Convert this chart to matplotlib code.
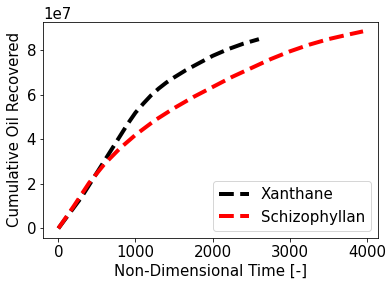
import matplotlib
matplotlib.use("Agg")
import matplotlib.pyplot as plt

xan_t = [0, 150, 300, 400, 500, 600, 700, 800, 900, 1000, 1100, 1200, 1300, 1400, 1500, 1650, 1800, 2000, 2200, 2400, 2600]
xan_oil = [0, 0.7e7, 1.4e7, 1.95e7, 2.5e7, 3.05e7, 3.6e7, 4.15e7, 4.7e7, 5.2e7, 5.6e7, 5.97e7, 6.28e7, 6.55e7, 6.78e7, 7.1e7, 7.38e7, 7.75e7, 8.05e7, 8.3e7, 8.5e7]
sch_t = [0, 200, 400, 600, 800, 1000, 1250, 1500, 1750, 2000, 2250, 2500, 2750, 3000, 3250, 3500, 3750, 3950]
sch_oil = [0, 1.0e7, 2.05e7, 2.9e7, 3.6e7, 4.2e7, 4.85e7, 5.4e7, 5.9e7, 6.35e7, 6.8e7, 7.2e7, 7.6e7, 7.95e7, 8.25e7, 8.5e7, 8.7e7, 8.85e7]

plt.rcParams['font.size'] = 15
fig, ax = plt.subplots(figsize=(392/72, 287/72), dpi=72)
ax.plot(xan_t, xan_oil, 'k--', lw=4, label='Xanthane')
ax.plot(sch_t, sch_oil, 'r--', lw=4, label='Schizophyllan')
ax.set_xlabel('Non-Dimensional Time [-]')
ax.set_ylabel('Cumulative Oil Recovered')
ax.legend(loc='lower right')
fig.subplots_adjust(left=0.11, right=0.965, top=0.925, bottom=0.17)
fig.savefig('out.png', dpi=72)
